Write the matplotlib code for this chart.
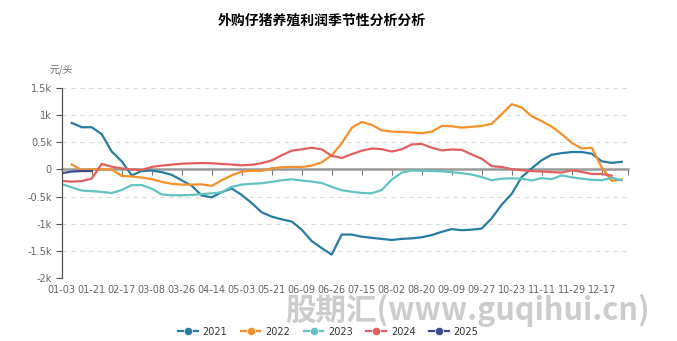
import numpy as np
import matplotlib.pyplot as plt

# weekly category axis, a label on every third week
tick_labels = ['01-03', '01-21', '02-17', '03-08', '03-26', '04-14', '05-03',
               '05-21', '06-09', '06-26', '07-15', '08-02', '08-20', '09-09',
               '09-27', '10-23', '11-11', '11-29', '12-17']
n_weeks = 57

nan = np.nan
y2021 = [nan, 857, 777, 777, 650, 330, 150, -110, -30, -20,
         -50, -100, -200, -300, -480, -515, -420, -350, -470, -620,
         -790, -870, -920, -960, -1110, -1320, -1450, -1570, -1200, -1200,
         -1240, -1260, -1280, -1300, -1280, -1270, -1250, -1210, -1150, -1100,
         -1120, -1110, -1090, -900, -650, -450, -140, 20, 170, 270,
         300, 320, 320, 290, 150, 120, 140]
y2022 = [nan, 90, -10, 0, 0, 0, -120, -130, -150, -180,
         -230, -265, -280, -280, -275, -305, -200, -110, -40, -25,
         -25, 20, 40, 45, 45, 70, 130, 260, 480, 765,
         875, 820, 720, 695, 690, 680, 668, 695, 800, 795,
         770, 785, 800, 840, 1020, 1200, 1140, 980, 890, 790,
         650, 490, 385, 400, 40, -210, -185]
y2023 = [-270, -330, -390, -400, -415, -435, -380, -290, -288, -355,
         -460, -477, -477, -470, -455, -440, -420, -320, -280, -265,
         -255, -230, -200, -183, -205, -225, -250, -320, -385, -410,
         -435, -440, -380, -190, -60, -20, -25, -30, -35, -50,
         -70, -95, -140, -200, -170, -165, -170, -205, -160, -180,
         -110, -145, -170, -190, -200, -155, -200]
y2024 = [-210, -225, -215, -170, 100, 50, 18, 0, -12, 45,
         70, 88, 105, 112, 116, 113, 100, 90, 75, 85,
         115, 165, 260, 345, 370, 398, 370, 250, 210, 280,
         345, 385, 373, 330, 370, 460, 470, 400, 350, 367,
         360, 275, 196, 61, 45, 5, -15, -30, -40, -50,
         -58, -15, -45, -85, -85, -115, nan]
y2025 = [-70, -40, -30, -30] + [nan] * 53

series = {'2021': y2021, '2022': y2022, '2023': y2023, '2024': y2024, '2025': y2025}
colors = {'2021': '#2a7ba0', '2022': '#f5902a', '2023': '#62c3c0',
          '2024': '#e0605f', '2025': '#3e4a8c'}

plt.rcParams['font.family'] = ['DejaVu Sans', 'Noto Sans CJK SC']

fig = plt.figure(figsize=(6.77, 3.41), dpi=100)
ax = fig.add_axes([0.0911, 0.1848, 0.837, 0.5572])

x = np.arange(n_weeks)
for name, vals in series.items():
    ax.plot(x, np.array(vals, dtype=float), color=colors[name], lw=1.6,
            label=name, solid_joinstyle='round')

ax.set_xlim(0, 56.66)
ax.set_ylim(-2000, 1500)

yt = [-2000, -1500, -1000, -500, 0, 500, 1000, 1500]
ax.set_yticks(yt)
ax.set_yticklabels(['-2k', '-1.5k', '-1k', '-0.5k', '0', '0.5k', '1k', '1.5k'])
for v in yt:
    if v != 0:
        ax.axhline(v, color='#dddddd', lw=0.8, ls=(0, (4, 4)), zorder=0)

ax.set_xticks(np.arange(0, n_weeks, 3))
ax.set_xticklabels(tick_labels)
ax.tick_params(axis='x', length=0, pad=5, labelsize=7, colors='#666666')
ax.tick_params(axis='y', length=4, width=0.8, color='#555555', pad=3,
               labelsize=7, labelcolor='#666666')

for side in ['top', 'right', 'bottom']:
    ax.spines[side].set_visible(False)
ax.spines['left'].set_color('#555555')
ax.spines['left'].set_linewidth(0.9)

# axis line through zero, with its own ticks
zero_ax = ax.secondary_xaxis(0, transform=ax.transData)
zero_ax.set_xticks(np.arange(0, n_weeks, 3).tolist() + [56.66])
zero_ax.tick_params(axis='x', direction='out', length=4, width=0.8,
                    color='#777777', labelbottom=False)
zero_ax.spines['bottom'].set_color('#999999')
zero_ax.spines['bottom'].set_linewidth(1.8)

fig.text(0.476, 0.94, '外购仔猪养殖利润季节性分析分析', ha='center', va='center',
         fontsize=10, fontweight='heavy', family=['Noto Sans CJK SC', 'DejaVu Sans'])
fig.text(0.090, 0.795, '元/头', ha='center', va='center', fontsize=7,
         color='#666666', family=['Noto Sans CJK SC', 'DejaVu Sans'])

# site watermark, drawn under everything else
fig.text(0.69, 0.091, '股期汇(www.guqihui.cn)', ha='center', va='center',
         fontsize=22, fontweight='heavy', style='italic', color='#cccccc',
         family=['Noto Sans CJK SC', 'DejaVu Sans'], zorder=0)

handles = [plt.Line2D([0], [0], color=colors[n], lw=1.6, marker='o',
                      markersize=6, markerfacecolor=colors[n],
                      markeredgecolor='white', markeredgewidth=0.5)
           for n in series]
fig.legend(handles, list(series.keys()), loc='center', ncol=5,
           bbox_to_anchor=(0.485, 0.027), frameon=False, fontsize=7,
           handlelength=2.0, handletextpad=0.5, columnspacing=1.4,
           labelcolor='#333333')

fig.savefig('out.png', dpi=100)
